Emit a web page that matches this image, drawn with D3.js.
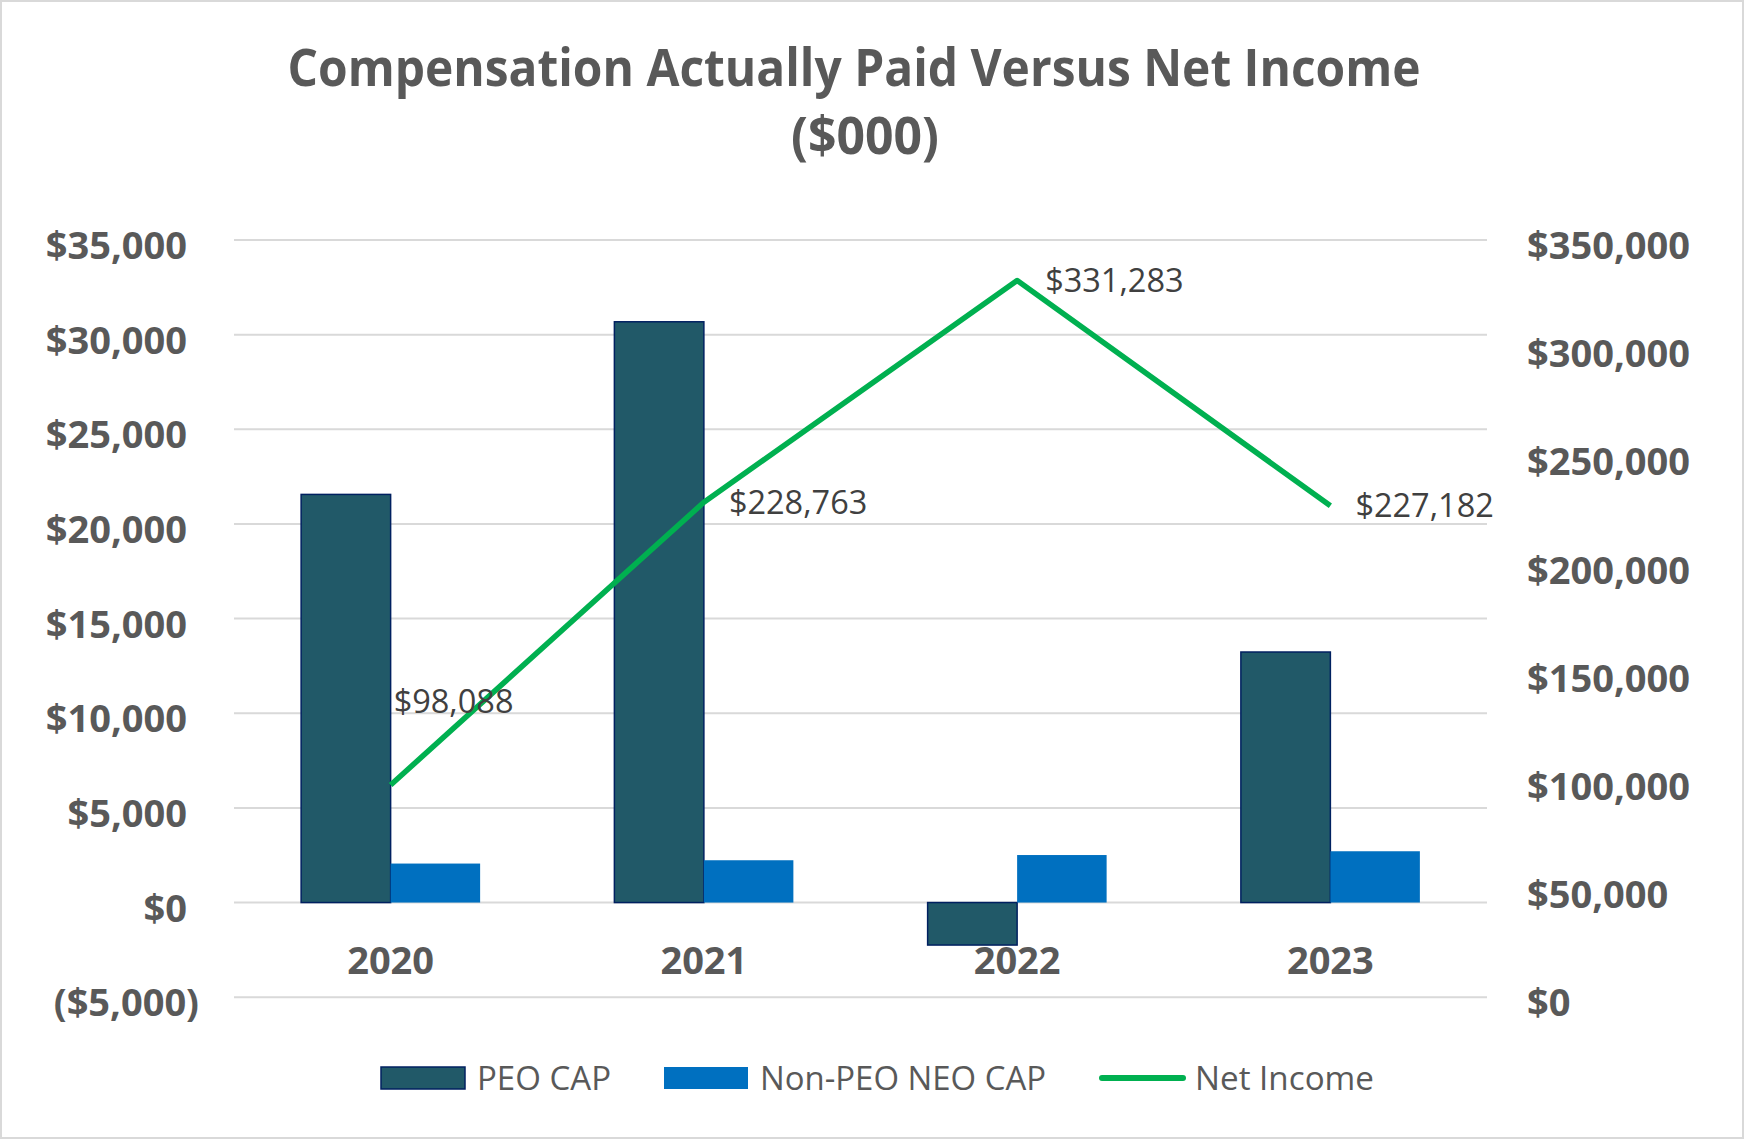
<!DOCTYPE html>
<html>
<head>
<meta charset="utf-8">
<script src="https://cdn.jsdelivr.net/npm/d3@7"></script>
<style>
  body { margin: 0; background: #fff; }
  .graphic { width: 1747px; height: 1141px; }
  text { font-family: "Open Sans", "Noto Sans", sans-serif; }
</style>
</head>
<body>
<div class="graphic"></div>
<script>
// values ($000)
var years = ["2020", "2021", "2022", "2023"];
var seriesNames = ["PEO CAP", "Non-PEO NEO CAP"];
var peoCap = [21560, 30680, -2245, 13235];
var nonPeoCap = [2060, 2235, 2510, 2710];
var netIncome = [98088, 228763, 331283, 227182];
var leftTicks = [-5000, 0, 5000, 10000, 15000, 20000, 25000, 30000, 35000];
var rightTicks = [0, 50000, 100000, 150000, 200000, 250000, 300000, 350000];

var colors = { peo: "#215968", peoStroke: "#002060", nonPeo: "#0070C0", line: "#00B050", grid: "#D9D9D9", text: "#595959", label: "#404040" };

var render = function() {
  var width = 1747, height = 1141;
  var plot = { left: 234, right: 1487, top: 240, bottom: 997.2 };

  var svg = d3.select(".graphic").append("svg")
    .attr("width", width)
    .attr("height", height);

  svg.append("rect")
    .attr("x", 1).attr("y", 1)
    .attr("width", width - 5).attr("height", height - 4)
    .attr("fill", "#fff")
    .attr("stroke", colors.grid)
    .attr("stroke-width", 2);

  // title
  var title = svg.append("g")
    .attr("fill", colors.text)
    .attr("font-weight", "bold")
    .attr("font-size", 52)
    .attr("text-anchor", "middle");
  title.append("text").attr("x", 854).attr("y", 86)
    .attr("textLength", 1133).attr("lengthAdjust", "spacingAndGlyphs")
    .text("Compensation Actually Paid Versus Net Income");
  title.append("text").attr("x", 865).attr("y", 154)
    .attr("textLength", 148).attr("lengthAdjust", "spacingAndGlyphs")
    .text("($000)");

  var x0 = d3.scaleBand().domain(years).range([plot.left, plot.right]);
  var x1 = d3.scaleBand().domain(seriesNames).range([0, x0.bandwidth()]).paddingOuter(0.75);

  var yLeft = d3.scaleLinear().domain([-5000, 35000]).range([plot.bottom, plot.top]);
  var yRight = d3.scaleLinear().domain([0, 350000]).range([plot.bottom, plot.top]);

  var money = d3.format("$,");
  var fmt = function(d) { return d < 0 ? "(" + money(-d) + ")" : money(d); };

  // gridlines
  svg.append("g")
    .selectAll("line")
    .data(leftTicks)
    .join("line")
    .attr("x1", plot.left).attr("x2", plot.right)
    .attr("y1", d => yLeft(d)).attr("y2", d => yLeft(d))
    .attr("stroke", colors.grid)
    .attr("stroke-width", 2);

  // left axis
  var leftAxis = svg.append("g")
    .attr("transform", "translate(187,0)")
    .call(d3.axisLeft(yLeft).tickValues(leftTicks).tickFormat(fmt).tickSize(0).tickPadding(0));
  leftAxis.select(".domain").remove();
  leftAxis.selectAll("text")
    .attr("fill", colors.text)
    .attr("font-size", 38)
    .attr("font-weight", "bold")
    .attr("font-family", "'Open Sans', sans-serif")
    .attr("dy", 18.5)
    .attr("x", d => d < 0 ? 12 : 0);

  // right axis
  var rightAxis = svg.append("g")
    .attr("transform", "translate(1527,0)")
    .call(d3.axisRight(yRight).tickValues(rightTicks).tickFormat(fmt).tickSize(0).tickPadding(0));
  rightAxis.select(".domain").remove();
  rightAxis.selectAll("text")
    .attr("fill", colors.text)
    .attr("font-size", 38)
    .attr("font-weight", "bold")
    .attr("font-family", "'Open Sans', sans-serif")
    .attr("dy", 18.5);

  // bars
  var rows = years.map(function(y, i) {
    return { year: y, values: [
      { name: seriesNames[0], value: peoCap[i] },
      { name: seriesNames[1], value: nonPeoCap[i] }
    ] };
  });

  svg.append("g")
    .selectAll("g")
    .data(rows)
    .join("g")
    .attr("transform", d => "translate(" + x0(d.year) + ",0)")
    .selectAll("rect")
    .data(d => d.values)
    .join("rect")
    .attr("x", d => x1(d.name))
    .attr("width", x1.bandwidth())
    .attr("y", d => yLeft(Math.max(0, d.value)))
    .attr("height", d => Math.abs(yLeft(d.value) - yLeft(0)))
    .attr("fill", d => d.name == seriesNames[0] ? colors.peo : colors.nonPeo)
    .attr("stroke", d => d.name == seriesNames[0] ? colors.peoStroke : "none")
    .attr("stroke-width", 1.5);

  // category labels
  svg.append("g")
    .selectAll("text")
    .data(years)
    .join("text")
    .attr("x", d => x0(d) + x0.bandwidth() / 2)
    .attr("y", 974)
    .attr("text-anchor", "middle")
    .attr("fill", colors.text)
    .attr("font-size", 38)
    .attr("font-weight", "bold")
    .text(d => d);

  // net income line
  var line = d3.line()
    .x((d, i) => x0(years[i]) + x0.bandwidth() / 2)
    .y(d => yRight(d));

  svg.append("path")
    .datum(netIncome)
    .attr("d", line)
    .attr("fill", "none")
    .attr("stroke", colors.line)
    .attr("stroke-width", 5.5)
    .attr("stroke-linejoin", "round");

  // data labels (the 2020 label sits above the point)
  var labelNudge = [[3, -83], [25, 0], [28, 0], [25, 0]];
  svg.append("g")
    .selectAll("text")
    .data(netIncome)
    .join("text")
    .attr("x", (d, i) => x0(years[i]) + x0.bandwidth() / 2 + labelNudge[i][0])
    .attr("y", (d, i) => yRight(d) + labelNudge[i][1] + 11.5)
    .attr("fill", colors.label)
    .attr("font-size", 32.5)
    .text(d => money(d));

  // legend
  var legendItems = [
    { name: "PEO CAP", type: "bar", color: colors.peo, stroke: colors.peoStroke, len: 134 },
    { name: "Non-PEO NEO CAP", type: "bar", color: colors.nonPeo, stroke: "none", len: 286 },
    { name: "Net Income", type: "line", color: colors.line, len: 179 }
  ];
  var legend = svg.append("g");
  var lx = 381, ly = 1078;
  legendItems.forEach(function(item) {
    if (item.type == "bar") {
      legend.append("rect")
        .attr("x", lx).attr("y", ly - 11)
        .attr("width", 84).attr("height", 22)
        .attr("fill", item.color)
        .attr("stroke", item.stroke)
        .attr("stroke-width", 1.5);
    } else {
      legend.append("line")
        .attr("x1", lx + 3).attr("x2", lx + 84)
        .attr("y1", ly).attr("y2", ly)
        .attr("stroke", item.color)
        .attr("stroke-width", 6)
        .attr("stroke-linecap", "round");
    }
    legend.append("text")
      .attr("x", lx + 96)
      .attr("y", ly + 12)
      .attr("fill", colors.text)
      .attr("font-size", 33)
      .attr("textLength", item.len)
      .attr("lengthAdjust", "spacingAndGlyphs")
      .text(item.name);
    lx += 96 + item.len + 53;
  });
};

render();
</script>
</body>
</html>
